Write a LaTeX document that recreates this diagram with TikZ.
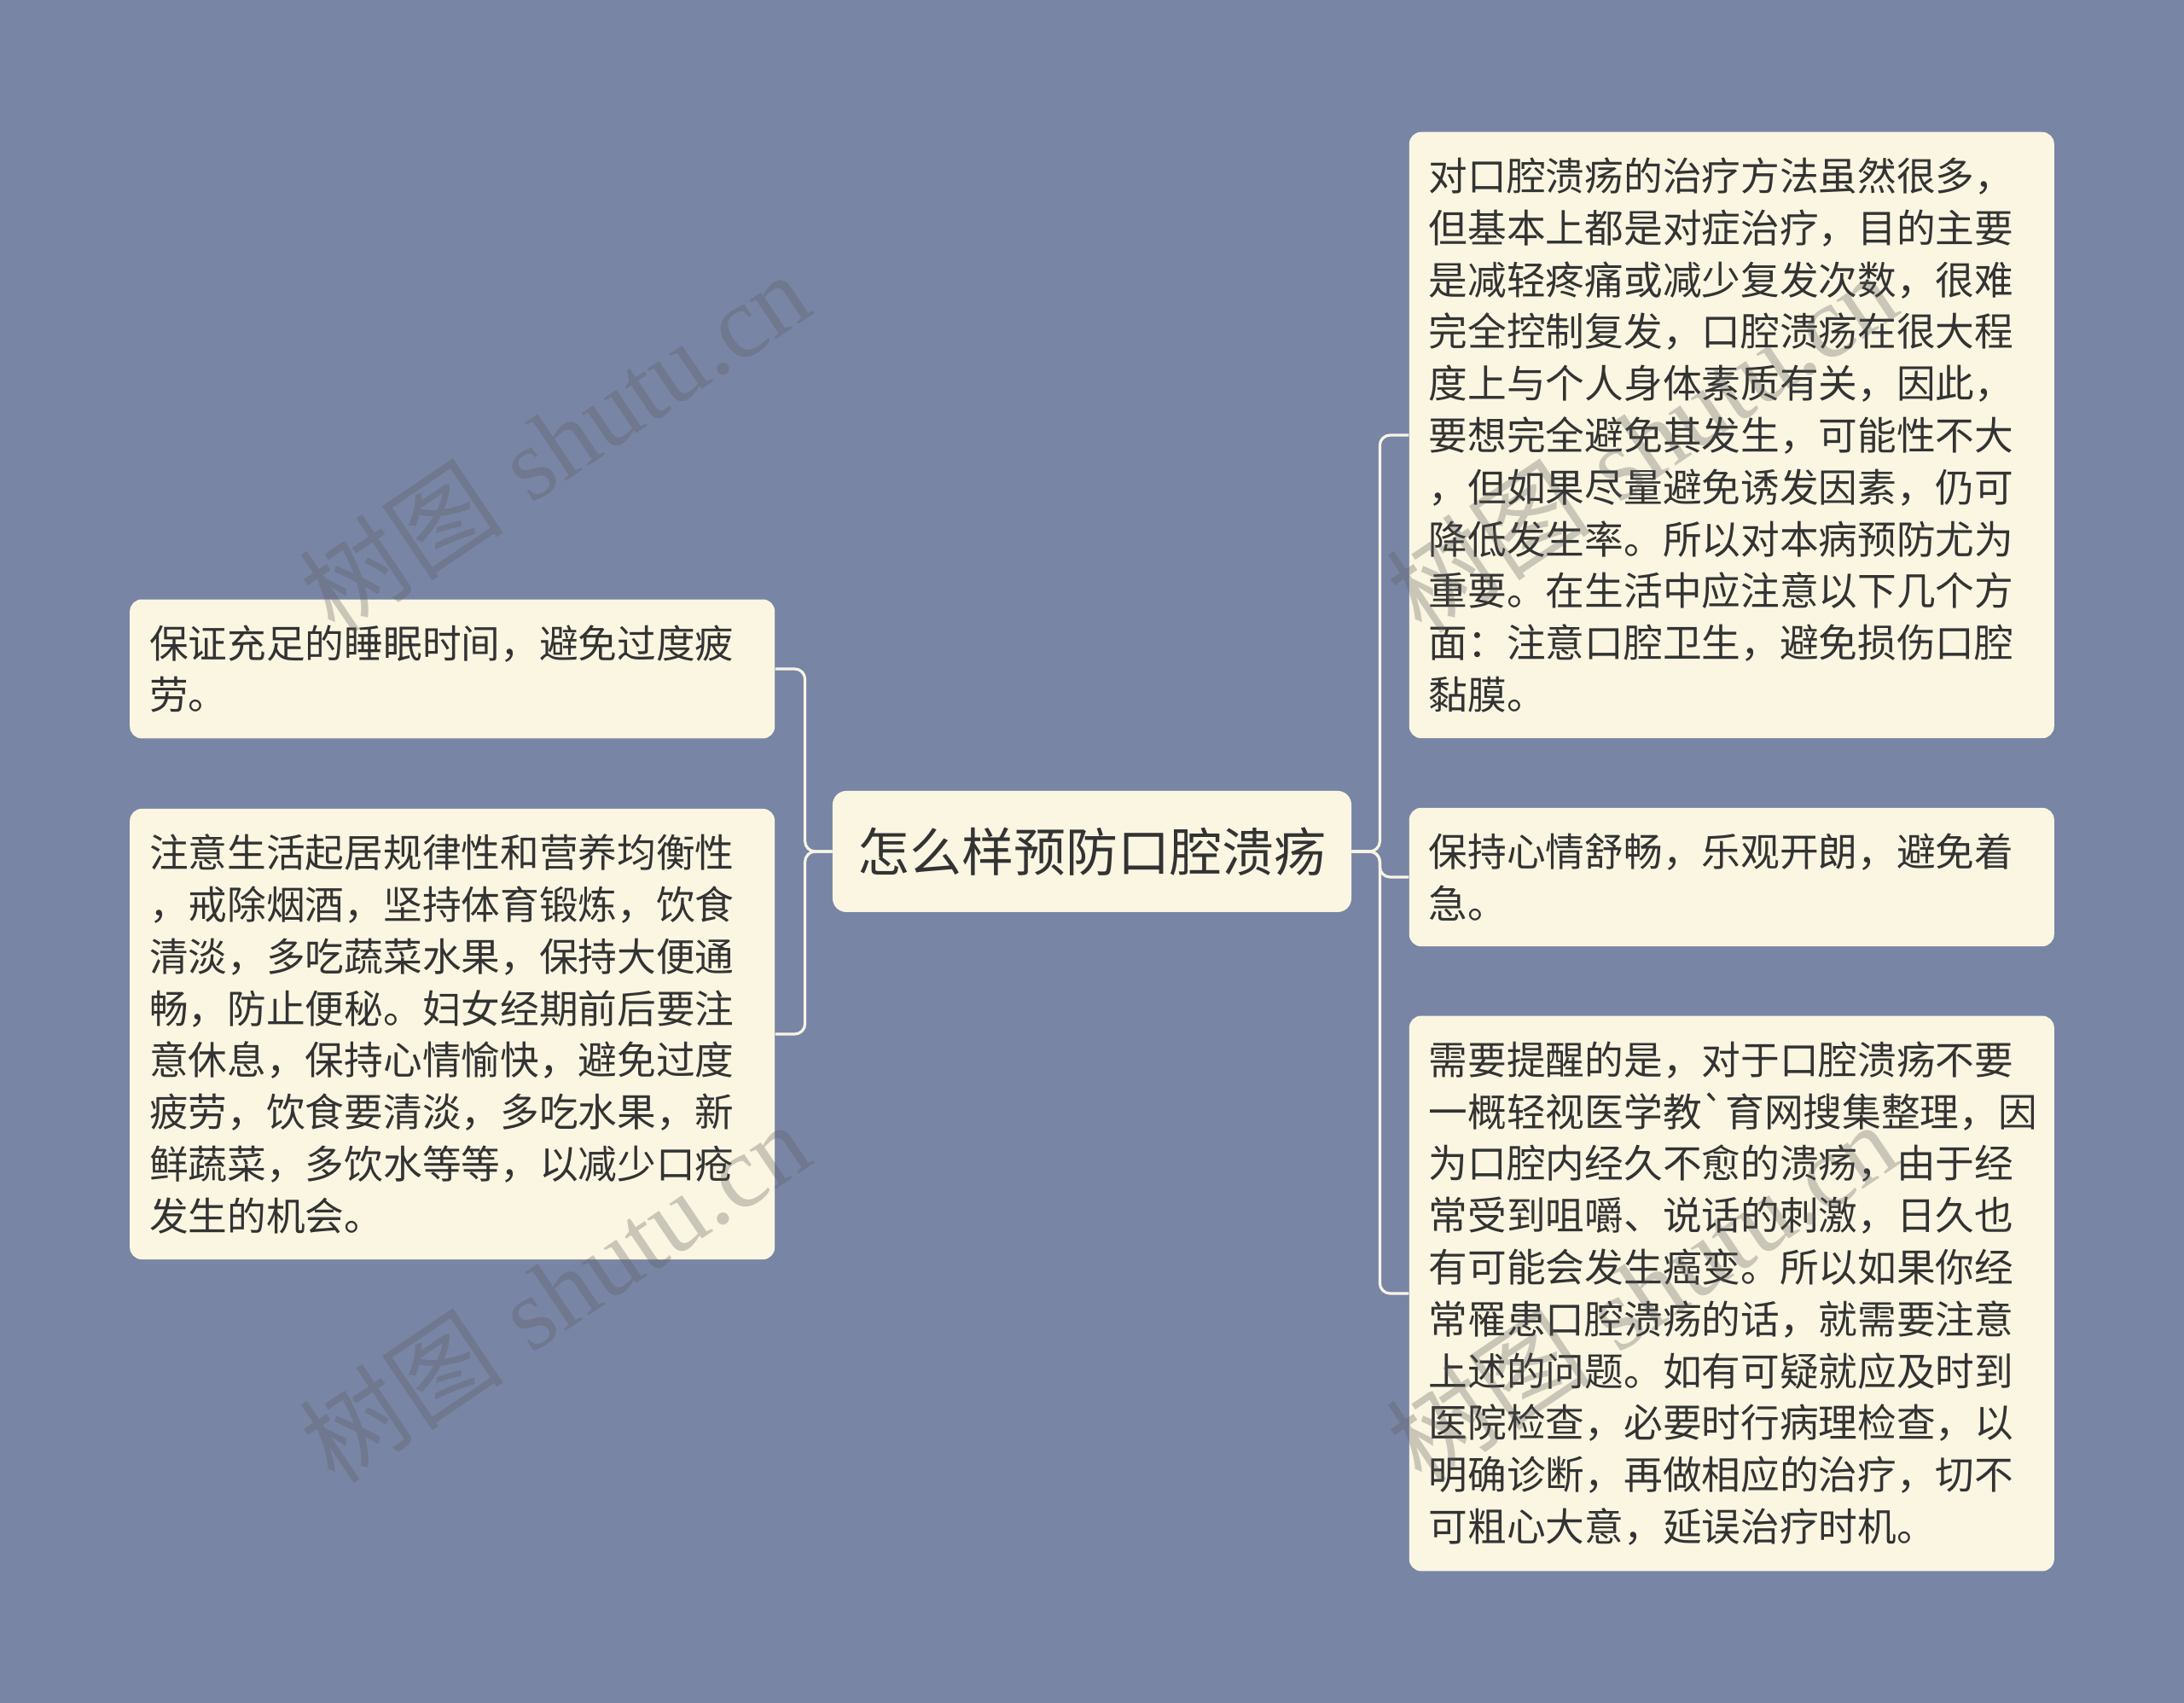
\documentclass[tikz,border=0pt]{standalone}
\usepackage{fontspec}
\newfontfamily\cjk{Noto Sans CJK SC}
\newfontfamily\wmserif{Liberation Serif}
\usepackage{tikz}
\usetikzlibrary{positioning}
\definecolor{bgblue}{HTML}{7985A5}
\definecolor{cream}{HTML}{FAF6E2}
\definecolor{inkgray}{HTML}{333333}
\definecolor{linkwhite}{HTML}{F8F5E6}
\definecolor{wmgray}{HTML}{5A5A5A}
\tikzset{
  topic/.style={rectangle,rounded corners=8pt,fill=cream,text=inkgray,
                minimum width=304pt,minimum height=71pt,align=center,
                font=\cjk\fontsize{30.5pt}{36pt}\selectfont},
  leaf/.style={rectangle,rounded corners=7pt,fill=cream,text=inkgray,
               text width=355pt,inner xsep=11.5pt,inner ysep=15pt,
               align=left,font=\cjk\fontsize{22.85pt}{30.4pt}\selectfont},
  branch/.style={draw=linkwhite,line width=1.6pt,rounded corners=6pt},
  wmark/.style={text=wmgray,opacity=0.3,rotate=34,inner sep=0pt,
                font=\fontsize{60pt}{60pt}\selectfont},
}

\begin{document}
\begin{tikzpicture}
    [node distance=33.5pt]
  \path[use as bounding box,fill=bgblue] (-640pt,-499pt) rectangle (640pt,499pt);

  % topic and leaves
  \node[topic] (root) at (0,0) {怎么样预防口腔溃疡};
  \node[leaf] (rt1) [right=of root,yshift=244pt]
    {对口腔溃疡的治疗方法虽然很多，\\
     但基本上都是对症治疗，目的主要\\
     是减轻疼痛或减少复发次数，很难\\
     完全控制复发，口腔溃疡在很大程\\
     度上与个人身体素质有关，因此，\\
     要想完全避免其发生，可能性不大\\
     ，但如果尽量避免诱发因素，仍可\\
     降低发生率。所以对本病预防尤为\\
     重要。在生活中应注意以下几个方\\
     面：注意口腔卫生，避免损伤口腔\\
     黏膜。};
  \node[leaf] (rt2) [right=of root,yshift=-15pt]
    {保持心情舒畅，乐观开朗，避免着\\
     急。};
  \node[leaf] (rt3) [right=of root,yshift=-259pt]
    {需要提醒的是，对于口腔溃疡不要\\
     一概轻视医学教\symbol{96}育网搜集整理，因\\
     为口腔内经久不愈的溃疡，由于经\\
     常受到咀嚼、说话的刺激，日久也\\
     有可能会发生癌变。所以如果你经\\
     常罹患口腔溃疡的话，就需要注意\\
     上述的问题。如有可疑就应及时到\\
     医院检查，必要时行病理检查，以\\
     明确诊断，再做相应的治疗，切不\\
     可粗心大意，延误治疗时机。};
  \node[leaf] (lf1) [left=of root,yshift=107pt]
    {保证充足的睡眠时间，避免过度疲\\
     劳。};
  \node[leaf] (lf2) [left=of root,yshift=-107pt]
    {注意生活起居规律性和营养均衡性\\
     ，戒除烟酒，坚持体育锻炼，饮食\\
     清淡，多吃蔬菜水果，保持大便通\\
     畅，防止便秘。妇女经期前后要注\\
     意休息，保持心情愉快，避免过度\\
     疲劳，饮食要清淡，多吃水果，新\\
     鲜蔬菜，多饮水等等，以减少口疮\\
     发生的机会。};

  % branches
  \draw[branch] (root.east) -- ++(16.5pt,0) |- (rt1.west);
  \draw[branch] (root.east) -- ++(16.5pt,0) |- (rt2.west);
  \draw[branch] (root.east) -- ++(16.5pt,0) |- (rt3.west);
  \draw[branch] (root.west) -- ++(-16pt,0) |- (lf1.east);
  \draw[branch] (root.west) -- ++(-16pt,0) |- (lf2.east);

  % watermarks
  \node[wmark] (wm1) at (-315pt,240pt)  {{\cjk 树图} {\wmserif shutu.cn}};
  \node[wmark] (wm2) at (-315pt,-258pt) {{\cjk 树图} {\wmserif shutu.cn}};
  \node[wmark] (wm3) at (322pt,240pt)   {{\cjk 树图} {\wmserif shutu.cn}};
  \node[wmark] (wm4) at (322pt,-258pt)  {{\cjk 树图} {\wmserif shutu.cn}};
\end{tikzpicture}
\end{document}
